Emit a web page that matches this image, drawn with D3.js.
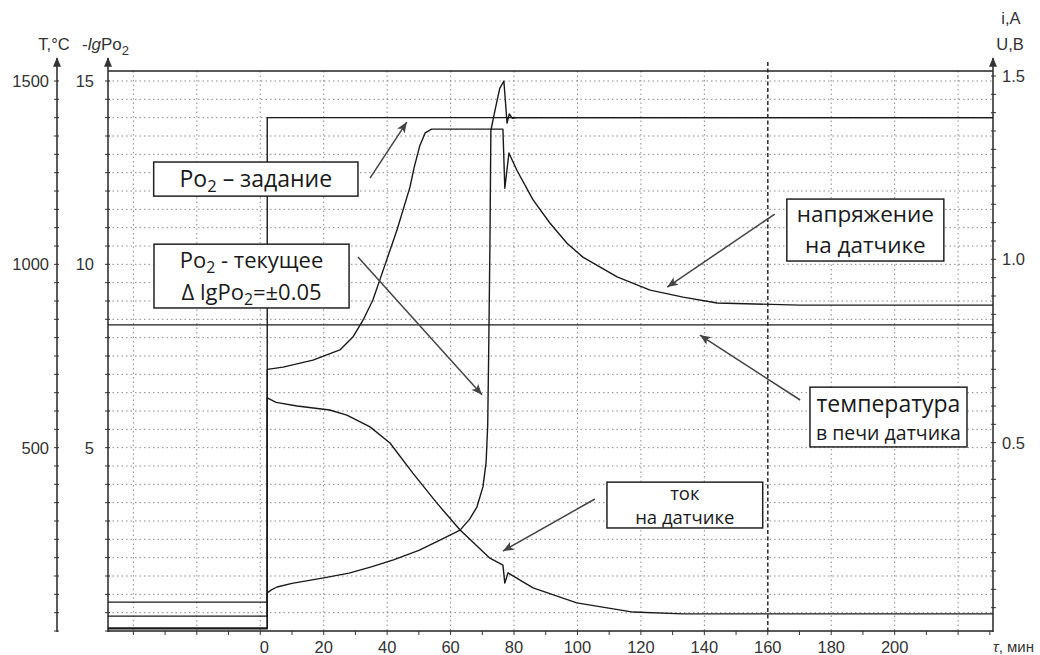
<!DOCTYPE html>
<html>
<head>
<meta charset="utf-8">
<script src="https://cdn.jsdelivr.net/npm/d3@7"></script>
<style>
body { margin:0; background:#fff; }
text { font-family:"Liberation Sans", Arial, sans-serif; fill:#333; }
.note text { font-family:"Open Sans", "Noto Sans", sans-serif; fill:#1a1a1a; }
</style>
</head>
<body>
<svg id="chart" width="1040" height="655"></svg>
<script>
// ---- data ----
var timeTicks = [0, 20, 40, 60, 80, 100, 120, 140, 160, 180, 200];
var gridTimes = [-40, -20, 0, 20, 40, 60, 80, 100, 120, 140, 180, 200, 220];
var tempTicks = [500, 1000, 1500];
var lgTicks = [5, 10, 15];
var rightTicks = [0.5, 1.0, 1.5];

// furnace temperature, C
var tempTime = [-48, 231];
var tempValues = [835, 835];

// -lgPo2 set point
var setTime = [-48, 2.2, 2.2, 231];
var setValues = [0.06, 0.06, 14.0, 14.0];

// -lgPo2 measured
var poTime = [-48, 2.2, 2.2, 3.5, 5.3, 10, 20, 28, 35, 42, 50, 56, 63, 66, 68.3, 70.2, 71.2, 71.7, 72.0, 72.4, 72.7, 74, 75.5, 76.8, 77.8, 78.5, 79.5, 81, 231];
var poValues = [0.08, 0.08, 1.04, 1.12, 1.2, 1.3, 1.45, 1.58, 1.75, 1.94, 2.2, 2.45, 2.75, 3.05, 3.38, 3.93, 4.6, 5.6, 7.5, 10.5, 13.65, 14.2, 14.8, 15.0, 13.85, 14.1, 13.98, 14.0, 14.0];

// sensor voltage, V
var voltTime = [-48, 2.2, 2.2, 7.2, 16.6, 25.1, 29.2, 32.4, 35.5, 37.7, 43.1, 47.2, 48.5, 50.3, 52, 54, 76.5, 77.1, 78.4, 80.9, 86, 91.3, 96.7, 101.7, 112.5, 122.9, 133.3, 144, 170, 231];
var voltValues = [0.065, 0.065, 0.70, 0.706, 0.725, 0.753, 0.788, 0.834, 0.889, 0.944, 1.08, 1.197, 1.25, 1.31, 1.345, 1.355, 1.355, 1.194, 1.29, 1.243, 1.162, 1.099, 1.044, 1.006, 0.952, 0.916, 0.897, 0.881, 0.875, 0.875];

// sensor current, A
var curTime = [-48, 2.2, 2.2, 5, 11.6, 21.9, 27.3, 34.6, 40.9, 48.1, 55.7, 63, 72.4, 76.5, 77.1, 78.1, 86, 99.8, 117.5, 133.3, 231];
var curValues = [0.027, 0.027, 0.622, 0.61, 0.600, 0.589, 0.575, 0.543, 0.499, 0.417, 0.335, 0.262, 0.185, 0.166, 0.117, 0.145, 0.104, 0.063, 0.038, 0.033, 0.033];

// ---- layout ----
var svg = d3.select("#chart");
var pLeft = 108, pRight = 993, pTop = 71, pBottom = 631;

var x = d3.scaleLinear().domain([-48, 231]).range([pLeft, pRight]);
var yLg = d3.scaleLinear().domain([0, 15]).range([pBottom, 81]);
var yT = d3.scaleLinear().domain([0, 1500]).range([pBottom, 81]);
var yR = d3.scaleLinear().domain([0, 1.5]).range([626, 76]);

var defs = svg.append("defs");
defs.append("marker").attr("id", "axArrow")
	.attr("viewBox", "0 0 12 10").attr("refX", 11).attr("refY", 5)
	.attr("markerWidth", 11).attr("markerHeight", 8).attr("markerUnits", "userSpaceOnUse")
	.attr("orient", "auto")
	.append("path").attr("d", "M0,0 L12,5 L0,10 Z").attr("fill", "#333");
defs.append("marker").attr("id", "noteArrow")
	.attr("viewBox", "0 0 12 10").attr("refX", 12).attr("refY", 5)
	.attr("markerWidth", 12).attr("markerHeight", 9).attr("markerUnits", "userSpaceOnUse")
	.attr("orient", "auto")
	.append("path").attr("d", "M0,0 L12,5 L0,10 L3,5 Z").attr("fill", "#444");

// grid
var grid = svg.append("g").attr("stroke", "#8a8a8a").attr("stroke-width", 1).attr("stroke-dasharray", "1.5,3");
grid.selectAll("line.h").data(d3.range(0.5, 15.01, 0.5)).enter().append("line")
	.attr("class", "h")
	.attr("x1", pLeft).attr("x2", pRight)
	.attr("y1", function(d){ return yLg(d); }).attr("y2", function(d){ return yLg(d); });
grid.selectAll("line.v").data(gridTimes).enter().append("line")
	.attr("class", "v")
	.attr("y1", pTop).attr("y2", pBottom)
	.attr("x1", function(d){ return x(d); }).attr("x2", function(d){ return x(d); });

// marked line at 160 min
svg.append("line")
	.attr("x1", x(160)).attr("x2", x(160)).attr("y1", 62).attr("y2", pBottom + 3)
	.attr("stroke", "#333").attr("stroke-width", 1.6).attr("stroke-dasharray", "4,2.5");

// frame
svg.append("line").attr("x1", pLeft).attr("x2", pRight).attr("y1", pTop).attr("y2", pTop)
	.attr("stroke", "#222").attr("stroke-width", 1.6);
svg.append("line").attr("x1", pLeft).attr("x2", pRight).attr("y1", pBottom).attr("y2", pBottom)
	.attr("stroke", "#222").attr("stroke-width", 1.6);

// axes with arrows
[57, pLeft, pRight].forEach(function(ax){
	svg.append("line").attr("x1", ax).attr("x2", ax).attr("y1", pBottom + 1).attr("y2", 58)
		.attr("stroke", "#333").attr("stroke-width", 1.6)
		.attr("marker-end", "url(#axArrow)");
});

// minor ticks on vertical axes
var tickVals = d3.range(0, 15.01, 0.5);
svg.append("g").selectAll("line").data(tickVals).enter().append("line")
	.attr("x1", 54).attr("x2", 59)
	.attr("y1", function(d){ return yLg(d); }).attr("y2", function(d){ return yLg(d); })
	.attr("stroke", "#333");
svg.append("g").selectAll("line").data(tickVals).enter().append("line")
	.attr("x1", pLeft - 3).attr("x2", pLeft + 2)
	.attr("y1", function(d){ return yLg(d); }).attr("y2", function(d){ return yLg(d); })
	.attr("stroke", "#333");
svg.append("g").selectAll("line").data(d3.range(0.05, 1.501, 0.05)).enter().append("line")
	.attr("x1", pRight - 2).attr("x2", pRight + 3)
	.attr("y1", function(d){ return yR(d); }).attr("y2", function(d){ return yR(d); })
	.attr("stroke", "#333");
svg.append("g").selectAll("line").data(d3.range(-40, 231, 10)).enter().append("line")
	.attr("x1", function(d){ return x(d); }).attr("x2", function(d){ return x(d); })
	.attr("y1", pBottom).attr("y2", pBottom + 4)
	.attr("stroke", "#333");

// tick labels
var fs = "16.5px";
svg.append("g").selectAll("text").data(tempTicks).enter().append("text")
	.attr("x", 49).attr("y", function(d){ return yT(d); }).attr("dy", "0.36em")
	.attr("text-anchor", "end").style("font-size", fs).text(function(d){ return d; });
svg.append("g").selectAll("text").data(lgTicks).enter().append("text")
	.attr("x", 94).attr("y", function(d){ return yLg(d); }).attr("dy", "0.36em")
	.attr("text-anchor", "end").style("font-size", fs).text(function(d){ return d; });
svg.append("g").selectAll("text").data(rightTicks).enter().append("text")
	.attr("x", 1002).attr("y", function(d){ return yR(d); }).attr("dy", "0.36em")
	.attr("text-anchor", "start").style("font-size", fs).text(function(d){ return d.toFixed(1); });
svg.append("g").selectAll("text").data(timeTicks).enter().append("text")
	.attr("x", function(d){ return x(d) + (d === 0 ? 4 : 0); }).attr("y", 653)
	.attr("text-anchor", "middle").style("font-size", fs).text(function(d){ return d; });

// axis titles
svg.append("text").attr("x", 54).attr("y", 50).attr("text-anchor", "middle")
	.style("font-size", "16.5px").text("T,°C");
var lgT = svg.append("text").attr("x", 82).attr("y", 50).style("font-size", "17px");
lgT.append("tspan").text("-");
lgT.append("tspan").style("font-style", "italic").text("lg");
lgT.append("tspan").text("Po");
lgT.append("tspan").attr("dy", 5).style("font-size", "13px").text("2");
svg.append("text").attr("x", 1011).attr("y", 24).attr("text-anchor", "middle")
	.style("font-size", "16.5px").text("i,A");
svg.append("text").attr("x", 1010).attr("y", 50).attr("text-anchor", "middle")
	.style("font-size", "16.5px").text("U,B");
var tauT = svg.append("text").attr("x", 1034).attr("y", 652).attr("text-anchor", "end").style("font-size", "15px");
tauT.append("tspan").style("font-style", "italic").text("τ");
tauT.append("tspan").text(", мин");

// series
function drawSeries(times, values, yScale) {
	var pts = times.map(function(t, i){ return [t, values[i]]; });
	var line = d3.line()
		.x(function(d){ return x(d[0]); })
		.y(function(d){ return yScale(d[1]); });
	svg.append("path").datum(pts)
		.attr("d", line)
		.attr("fill", "none")
		.attr("stroke", "#1a1a1a")
		.attr("stroke-width", 1.4)
		.attr("stroke-linejoin", "round");
}
drawSeries(tempTime, tempValues, yT);
drawSeries(setTime, setValues, yLg);
drawSeries(poTime, poValues, yLg);
drawSeries(voltTime, voltValues, yR);
drawSeries(curTime, curValues, yR);

// annotations (box corners and arrows in time / -lgPo2 units)
var notes = [
	{ box: [-33.6, 12.79, 30.8, 11.86], from: [34.6, 12.35], to: [46.2, 13.88],
	  lines: [[["Po",0],["2",1],[" – задание",0]]], sizes: [23], rows: [0.5] },
	{ box: [-33.5, 10.55, 28.0, 8.81], from: [30.8, 10.2], to: [69.9, 6.44],
	  lines: [[["Po",0],["2",1],[" - текущее",0]], [["Δ lgPo",0],["2",1],["=±0.05",0]]], sizes: [22, 22], rows: [0.25, 0.75] },
	{ box: [166.0, 11.78, 215.5, 10.09], from: [162.2, 11.37], to: [128.3, 9.38],
	  lines: [[["напряжение",0]], [["на датчике",0]]], sizes: [22.5, 22.5], rows: [0.25, 0.75] },
	{ box: [173.3, 6.65, 222.8, 5.02], from: [170.2, 6.3], to: [138.6, 8.07],
	  lines: [[["температура",0]], [["в печи датчика",0]]], sizes: [23, 19.5], rows: [0.28, 0.77] },
	{ box: [109.3, 4.06, 158.4, 2.81], from: [105.5, 3.6], to: [76.5, 2.18],
	  lines: [[["ток",0]], [["на датчике",0]]], sizes: [18.5, 18.5], rows: [0.24, 0.77] }
];

var noteG = svg.append("g").attr("class", "note");
notes.forEach(function(n){
	var x0 = x(n.box[0]), y0 = yLg(n.box[1]), x1 = x(n.box[2]), y1 = yLg(n.box[3]);
	noteG.append("line")
		.attr("x1", x(n.from[0])).attr("y1", yLg(n.from[1]))
		.attr("x2", x(n.to[0])).attr("y2", yLg(n.to[1]))
		.attr("stroke", "#444").attr("stroke-width", 1.5)
		.attr("marker-end", "url(#noteArrow)");
	noteG.append("rect")
		.attr("x", x0).attr("y", y0).attr("width", x1 - x0).attr("height", y1 - y0)
		.attr("fill", "#fff").attr("stroke", "#222").attr("stroke-width", 1.5);
	n.lines.forEach(function(parts, k){
		var sz = n.sizes[k];
		var t = noteG.append("text")
			.attr("x", (x0 + x1) / 2)
			.attr("y", y0 + (y1 - y0) * n.rows[k])
			.attr("dy", "0.35em")
			.attr("text-anchor", "middle")
			.style("font-size", sz + "px");
		var wasSub = false;
		parts.forEach(function(p){
			if (p[1]) {
				t.append("tspan").attr("dy", 5).style("font-size", (sz * 0.72) + "px").text(p[0]);
				wasSub = true;
			} else {
				var sp = t.append("tspan").text(p[0]);
				if (wasSub) { sp.attr("dy", -5); wasSub = false; }
			}
		});
	});
});
</script>
</body>
</html>
